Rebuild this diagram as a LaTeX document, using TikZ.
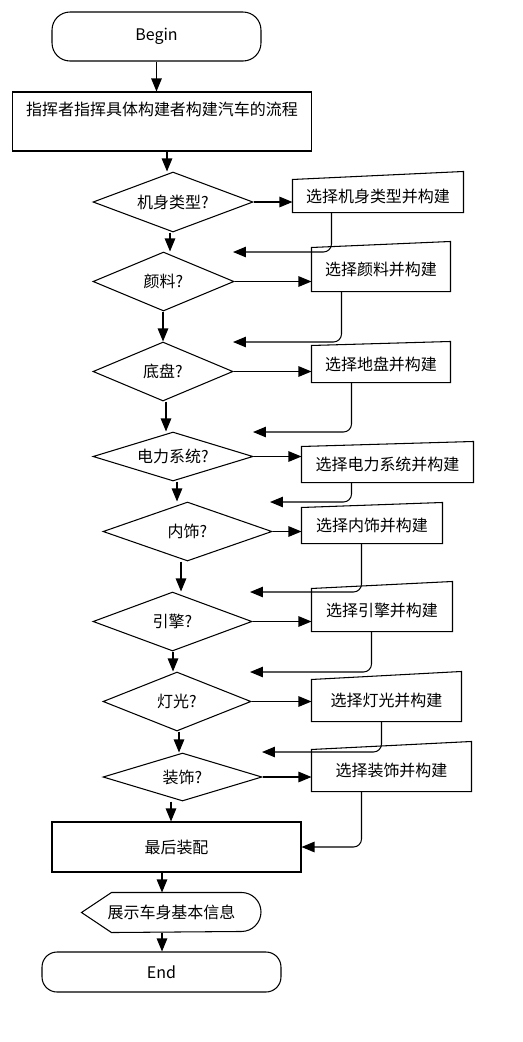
\documentclass[tikz,border=0pt]{standalone}
\usepackage{fontspec}
\setmainfont{Noto Sans CJK SC}
\usetikzlibrary{shapes.geometric,arrows.meta,calc}

\begin{document}
\begin{tikzpicture}[x=0.02cm,y=-0.02cm,line width=0.6pt,>={Triangle[length=0.26cm,width=0.21cm]},
    font=\fontsize{9.1pt}{11pt}\selectfont,
    terminal/.style={draw,rounded corners=0.36cm},
    process/.style={draw,rectangle,inner sep=0pt},
    decision/.style={draw,diamond,aspect=3,inner sep=0pt},
    manual/.style={rectangle,inner sep=0pt}]
    \useasboundingbox (0,0) rectangle (522,1042);

    \node[terminal,minimum width=4.18cm,minimum height=0.98cm] (start) at (156.5,36.5) {Begin};
    \node[process,minimum width=6cm,minimum height=1.18cm,align=center] (plan) at (162,121.5) {指挥者指挥具体构建者构建汽车的流程\\\strut};

    % questions
    \node[decision,minimum width=3.2cm,minimum height=1.2cm] (d1) at (173,202) {机身类型?};
    \node[decision,minimum width=2.82cm,minimum height=1.18cm] (d2) at (163.5,281.5) {颜料?};
    \node[decision,minimum width=2.8cm,minimum height=1.18cm] (d3) at (163,371.5) {底盘?};
    \node[decision,minimum width=3.2cm,minimum height=0.98cm] (d4) at (173,456.5) {电力系统?};
    \node[decision,minimum width=3.38cm,minimum height=1.18cm] (d5) at (187.5,531.5) {内饰?};
    \node[decision,minimum width=3.18cm,minimum height=1.18cm] (d6) at (172.5,621.5) {引擎?};
    \node[decision,minimum width=2.96cm,minimum height=1.18cm] (d7) at (177,701.5) {灯光?};
    \node[decision,minimum width=3.18cm,minimum height=0.96cm] (d8) at (182.5,777) {装饰?};

    % build steps
    \node[manual,minimum width=3.4cm,minimum height=0.64cm] (b1) at (378,196) {选择机身类型并构建};
    \node[manual,minimum width=2.76cm,minimum height=0.86cm] (b2) at (381,269.5) {选择颜料并构建};
    \node[manual,minimum width=2.76cm,minimum height=0.72cm] (b3) at (381,364) {选择地盘并构建};
    \node[manual,minimum width=3.42cm,minimum height=0.7cm] (b4) at (387.5,464.5) {选择电力系统并构建};
    \node[manual,minimum width=2.8cm,minimum height=0.7cm] (b5) at (372,525.5) {选择内饰并构建};
    \node[manual,minimum width=2.8cm,minimum height=0.84cm] (b6) at (382,610) {选择引擎并构建};
    \node[manual,minimum width=2.98cm,minimum height=0.82cm] (b7) at (386.5,700.5) {选择灯光并构建};
    \node[manual,minimum width=3.18cm,minimum height=0.82cm] (b8) at (391.5,770.5) {选择装饰并构建};
    \foreach \b/\s in {b1/8,b2/6,b3/4,b4/5,b5/5,b6/7,b7/8,b8/8}
        \draw (\b.south west) -- (\b.north west) -- ($(\b.north east)+(0,-\s)$) -- (\b.south east) -- cycle;

    \node[process,minimum width=4.98cm,minimum height=1cm] (assemble) at (176.5,847) {最后装配};
    \node[manual,minimum width=3.58cm,minimum height=0.78cm] (show) at (171.5,912.5) {展示车身基本信息};
    \draw (show.west) -- ($(show.north west)+(30,0)$) -- ($(show.north east)+(-20,0)$)
        arc[start angle=90,end angle=-90,radius=0.39cm] -- ($(show.south west)+(30,0)$) -- cycle;
    \node[terminal,rounded corners=0.3cm,minimum width=4.78cm,minimum height=0.8cm] (stop) at (161.5,972) {End};

    % free ends of the way back
    \coordinate (r1) at (233,252);
    \coordinate (r2) at (233,342);
    \coordinate (r3) at (253,432);
    \coordinate (r4) at (270,502);
    \coordinate (r5) at (250,592);
    \coordinate (r6) at (250,672);
    \coordinate (r7) at (262,752);

    \draw[->] (start.south) -- (start.south |- plan.north);
    \foreach \a/\c/\x in {plan/d1/167,d1/d2/170,d2/d3/163,d3/d4/166,d4/d5/177,d5/d6/181,d6/d7/173,d7/d8/179,d8/assemble/171,assemble/show/162,show/stop/162}
        \draw[->] (\a.south -| \x,0) -- (\c.north -| \x,0);
    \foreach \d/\b in {d1/b1,d2/b2,d3/b3,d4/b4,d5/b5,d6/b6,d7/b7,d8/b8}
        \draw[->] (\d.east) -- (\d.east -| \b.west);
    \foreach \b/\o/\r in {b1/39/r1,b2/30/r2,b3/40/r3,b4/50/r4,b5/60/r5,b6/60/r6,b7/70/r7,b8/50/assemble.east}
        \draw[->,rounded corners=0.16cm] ($(\b.south west)+(\o,0)$) |- (\r);
\end{tikzpicture}
\end{document}
